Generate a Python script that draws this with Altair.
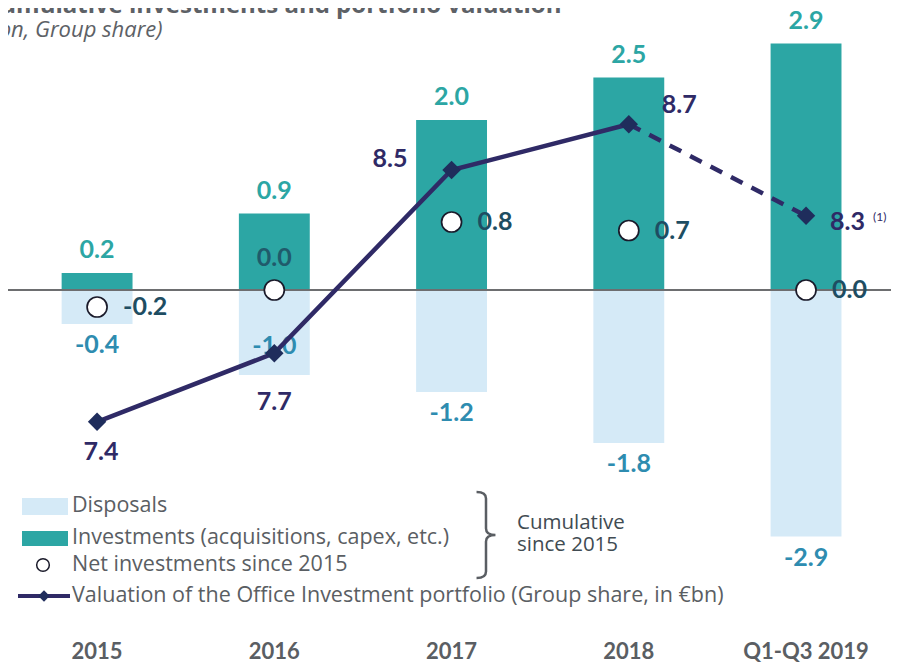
import altair as alt
import pandas as pd

# ---- data ----
categories = ["2015", "2016", "2017", "2018", "Q1-Q3 2019"]
investments = [0.2, 0.9, 2.0, 2.5, 2.9]
disposals = [-0.4, -1.0, -1.2, -1.8, -2.9]
net_investments = [-0.2, 0.0, 0.8, 0.7, 0.0]
valuation = [7.4, 7.7, 8.5, 8.7, 8.3]

title_text = "Cumulative investments and portfolio valuation"
subtitle_text = "(€bn, Group share)"
legend_labels = [
    "Disposals",
    "Investments (acquisitions, capex, etc.)",
    "Net investments since 2015",
    "Valuation of the Office Investment portfolio (Group share, in €bn)",
]
brace_labels = ["Cumulative", "since 2015"]
footnote_mark = "(1)"


def fmt(v):
    return f"{v:.1f}"


df = pd.DataFrame({
    "cat": categories,
    "inv": investments,
    "disp": disposals,
    "net": net_investments,
    "val": valuation,
    "inv_t": [fmt(v) for v in investments],
    "disp_t": [fmt(v) for v in disposals],
    "net_t": [fmt(v) for v in net_investments],
    "val_t": [fmt(v) for v in valuation],
    "idx": list(range(len(categories))),
})

W, H = 883, 656
TEAL = "#2ca6a4"
LIGHT = "#d5eaf7"
DISP_TXT = "#2e8cb0"
NET_TXT = "#1e4d62"
NAVY = "#2f2a66"
DIAMOND = "#1f2d5c"
GREY = "#5a5e63"
RULE = "#6d6e70"
FONT = "Lato"
LFONT = "Open Sans"

xs = alt.X("cat:N", scale=alt.Scale(domain=categories, paddingInner=0.6,
                                     paddingOuter=0.291, align=0.52), axis=None)
ybar = alt.Scale(domain=[-4.4, 3.318])
yline = alt.Scale(domain=[6.342, 9.208])

base = alt.Chart(df)
one = alt.Chart(pd.DataFrame({"k": [0]}))


def ybar_enc(field):
    return alt.Y(f"{field}:Q", scale=ybar, axis=None)


def yline_enc():
    return alt.Y("val:Q", scale=yline, axis=None)


layers = []

# bars
layers.append(base.mark_bar(color=TEAL).encode(x=xs, y=ybar_enc("inv")))
layers.append(base.mark_bar(color=LIGHT).encode(x=xs, y=ybar_enc("disp")))

# zero line
layers.append(one.mark_rule(color=RULE, strokeWidth=2).encode(
    y=alt.Y(datum=0, scale=ybar, axis=None), x=alt.value(0), x2=alt.value(W)))

# investment labels
layers.append(base.mark_text(font=FONT, fontWeight="bold", fontSize=25, color=TEAL,
                             baseline="middle", dy=-23).encode(
    x=xs, y=ybar_enc("inv"), text="inv_t:N"))

# disposal labels
layers.append(base.transform_filter("datum.idx != 1").mark_text(
    font=FONT, fontWeight="bold", fontSize=25, color=DISP_TXT, baseline="middle", dy=21).encode(
    x=xs, y=ybar_enc("disp"), text="disp_t:N"))
layers.append(base.transform_filter("datum.idx == 1").mark_text(
    font=FONT, fontWeight="bold", fontSize=25, color=DISP_TXT, baseline="middle", dy=-29).encode(
    x=xs, y=ybar_enc("disp"), text="disp_t:N"))

# valuation line
layers.append(base.transform_filter("datum.idx <= 3").mark_line(color=NAVY, strokeWidth=4.5).encode(
    x=xs, y=yline_enc()))
layers.append(base.transform_filter("datum.idx >= 3").mark_line(
    color=NAVY, strokeWidth=4.5, strokeDash=[13, 10]).encode(x=xs, y=yline_enc()))
layers.append(base.mark_point(shape="diamond", filled=True, size=340, color=DIAMOND, opacity=1).encode(
    x=xs, y=yline_enc()))

# net investment circles
layers.append(base.mark_point(shape="circle", filled=True, fill="white", stroke="#1a1a2a",
                              strokeWidth=1.7, size=400, opacity=1).encode(x=xs, y=ybar_enc("net")))

# net labels
layers.append(base.transform_filter("datum.idx != 1").mark_text(
    font=FONT, fontWeight="bold", fontSize=25, color=NET_TXT, align="left",
    baseline="middle", dx=26).encode(x=xs, y=ybar_enc("net"), text="net_t:N"))
layers.append(base.transform_filter("datum.idx == 1").mark_text(
    font=FONT, fontWeight="bold", fontSize=25, color=NET_TXT, opacity=0.85, align="center",
    baseline="middle", dy=-32).encode(x=xs, y=ybar_enc("net"), text="net_t:N"))

# valuation labels
val_label_styles = [
    (0, dict(align="center", dx=4, dy=30)),
    (1, dict(align="center", dx=0, dy=49)),
    (2, dict(align="right", dx=-44, dy=-11)),
    (3, dict(align="left", dx=33, dy=-19)),
    (4, dict(align="left", dx=24, dy=6)),
]
for i, st in val_label_styles:
    layers.append(base.transform_filter(f"datum.idx == {i}").mark_text(
        font=FONT, fontWeight="bold", fontSize=25, color=NAVY, baseline="middle", **st).encode(
        x=xs, y=yline_enc(), text="val_t:N"))
layers.append(base.transform_filter("datum.idx == 4").mark_text(
    font=FONT, fontSize=12, color=NAVY, align="left", baseline="middle", dx=67, dy=1).encode(
    x=xs, y=yline_enc(), text=alt.value(footnote_mark)))

# category labels
layers.append(base.mark_text(font=FONT, fontWeight="bold", fontSize=22, color=GREY,
                             baseline="middle").encode(x=xs, y=alt.value(644), text="cat:N"))

# title (cropped at the top/left as in the reference)
layers.append(one.mark_text(font=LFONT, fontWeight="bold", fontSize=24, color="#5d6166",
                            align="left", baseline="alphabetic").encode(
    x=alt.value(-23), y=alt.value(5), text=alt.value(title_text)))
layers.append(one.mark_text(font=LFONT, fontStyle="italic", fontSize=22, color="#5d6166",
                            align="left", baseline="alphabetic").encode(
    x=alt.value(-28), y=alt.value(29), text=alt.value(subtitle_text)))

# legend
layers.append(one.mark_rect(color=LIGHT).encode(
    x=alt.value(14), x2=alt.value(60), y=alt.value(490), y2=alt.value(507)))
layers.append(one.mark_rect(color=TEAL).encode(
    x=alt.value(14), x2=alt.value(60), y=alt.value(523), y2=alt.value(538)))
layers.append(one.mark_point(shape="circle", filled=True, fill="white", stroke="#1a1a2a",
                             strokeWidth=1.5, size=160, opacity=1).encode(
    x=alt.value(35), y=alt.value(557)))
layers.append(one.mark_rule(color=NAVY, strokeWidth=4).encode(
    x=alt.value(10), x2=alt.value(62), y=alt.value(588)))
layers.append(one.mark_point(shape="diamond", filled=True, size=130, color=DIAMOND, opacity=1).encode(
    x=alt.value(36), y=alt.value(588)))
for lbl, yy in zip(legend_labels, [498, 530, 557, 588]):
    layers.append(one.mark_text(font=LFONT, fontSize=21.5, color=GREY, align="left",
                                baseline="middle").encode(
        x=alt.value(64), y=alt.value(yy), text=alt.value(lbl)))

# brace and its text
brace_path = ("M -0.22,-1 Q 0,-1 0,-0.85 L 0,-0.15 Q 0,0 0.22,0 "
              "Q 0,0 0,0.15 L 0,0.85 Q 0,1 -0.22,1")
layers.append(one.mark_point(shape=brace_path, filled=False, stroke=GREY, strokeWidth=2.5,
                             size=7400, opacity=1).encode(x=alt.value(478), y=alt.value(527)))
for lbl, yy in zip(brace_labels, [515, 537]):
    layers.append(one.mark_text(font=LFONT, fontSize=20.5, color="#414b52", align="left",
                                baseline="middle").encode(
        x=alt.value(509), y=alt.value(yy), text=alt.value(lbl)))

chart = alt.layer(*layers).resolve_scale(y="independent").properties(
    width=W, height=H, padding=0,
    autosize=alt.AutoSizeParams(type="none"),
    background="white",
).configure_view(stroke=None)

chart.save("out.html", embed_options={"renderer": "svg", "actions": False})
